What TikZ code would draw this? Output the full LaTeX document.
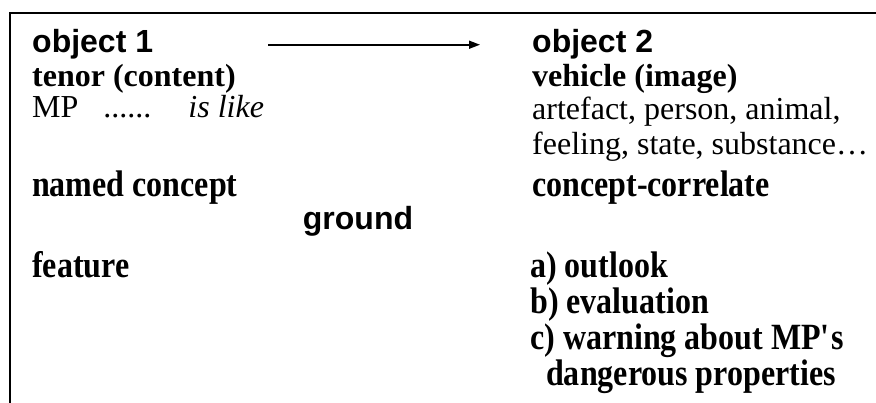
\documentclass[tikz,border=0pt]{standalone}
\usepackage{fontspec}
\setmainfont{Liberation Serif}
\newfontfamily\headfont{Liberation Sans}
\newfontfamily\tallfont{Liberation Serif}[FakeStretch=0.865]
\usepackage{tikz}
\usetikzlibrary{arrows.meta}

\begin{document}
\begin{tikzpicture}[x=1pt,y=-1pt,
        item/.style={anchor=base west,inner sep=0pt,font=\fontsize{32}{35}\selectfont},
        term/.style={item,font=\fontsize{32}{35}\selectfont\bfseries},
        tallterm/.style={item,font=\fontsize{37}{40}\selectfont\tallfont\bfseries},
        head/.style={item,font=\fontsize{32}{35}\selectfont\headfont\bfseries},
        frame/.style={line width=2pt,line cap=rect},
        link/.style={line width=1.6pt,-{Triangle[length=11pt,width=8pt]}}
    ]
        \useasboundingbox (0,0) rectangle (876,403);
        \draw[frame] (10,403) -- (10,13) -- (876,13);

        \node[head] (obj1) at (32,53) {object 1};
        \node[term] (tenor) at (32,87) {tenor (content)};
        \node[item] (mp) at (32,118) {MP\hspace{25pt}......\hspace{37pt}\textit{is like}};
        \node[tallterm] (named) at (32,197) {named concept};
        \node[tallterm] (feature) at (32,278) {feature};

        \node[head,anchor=base] (ground) at (358,230) {ground};

        \node[head] (obj2) at (532,53) {object 2};
        \node[term] (vehicle) at (532,87) {vehicle (image)};
        \node[item] (artefact) at (532,120) {artefact, person, animal,};
        \node[item] (feeling) at (532,155) {feeling, state, substance…};
        \node[tallterm] (correlate) at (532,197) {concept-correlate};
        \node[tallterm] (outlook) at (530,278) {a) outlook};
        \node[tallterm] (evaluation) at (530,314) {b) evaluation};
        \node[tallterm] (warning) at (530,350) {c) warning about MP\textquotesingle s};
        \node[tallterm] (danger) at (546,386) {dangerous properties};

        \draw[link,shorten <=115pt,shorten >=52pt,yshift=-4pt] (obj1.east) -- (obj2.west);
    \end{tikzpicture}
\end{document}
